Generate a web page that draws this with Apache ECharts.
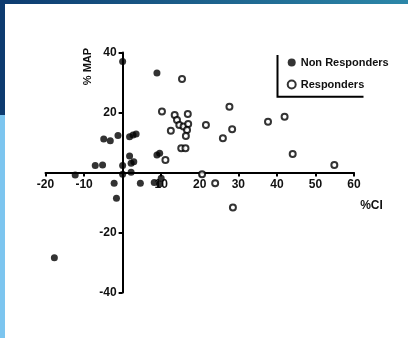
<!DOCTYPE html>
<html>
<head>
<meta charset="utf-8">
<script src="https://cdn.jsdelivr.net/npm/echarts@6/dist/echarts.min.js"></script>
<style>html,body{margin:0;padding:0;background:#fff;}#c{width:408px;height:338px;}</style>
</head>
<body>
<div id="c"></div>
<script>
var seriesNames = ['Non Responders', 'Responders'];
var nonResponders = [
  [0, 37], [8.9, 33.2], [-4.9, 11.2], [-3.2, 10.6], [-1.2, 12.3], [1.8, 11.9],
  [2.7, 12.5], [3.5, 12.8], [1.8, 5.5], [2.9, 3.6], [2.2, 3.1], [-7.1, 2.3],
  [-5.2, 2.5], [0, 2.3], [0, -0.6], [2.2, 0.1], [-12.3, -0.8], [-2.2, -3.6],
  [4.6, -3.6], [8.2, -3.3], [9.6, -3.8], [10, -1.9], [8.9, 5.8], [9.6, 6.4],
  [-1.6, -8.6], [-17.7, -28.4]
];
var responders = [
  [15.4, 31.2], [10.2, 20.3], [13.5, 19.2], [16.9, 19.5], [14.1, 17.5],
  [14.7, 15.8], [15.8, 15.3], [17, 16.2], [12.5, 13.9], [16.7, 14.2],
  [16.4, 12.2], [15.2, 8.1], [16.3, 8.1], [11.1, 4.2], [21.6, 15.8],
  [27.7, 21.9], [26, 11.4], [28.4, 14.4], [20.6, -0.6], [24, -3.6],
  [28.6, -11.7], [37.7, 16.9], [42, 18.6], [44.1, 6.2], [54.9, 2.5]
];
var xTicks = {min: -20, max: 60, step: 10};
var yTicks = {min: -40, max: 40, step: 20};
var xTitle = '%CI';
var yTitle = '% MAP';

var FONT = '"Liberation Sans", Arial, sans-serif';
var GRID = {left: 45.5, right: 54, top: 52.5, bottom: 45.5};
var W = 408, H = 338;
var plotW = W - GRID.left - GRID.right, plotH = H - GRID.top - GRID.bottom;
// offsets so the axes cross at the data origin (0,0)
var xAxisOffset = -plotH * (0 - yTicks.min) / (yTicks.max - yTicks.min);
var yAxisOffset = -plotW * (0 - xTicks.min) / (xTicks.max - xTicks.min);

var chart = echarts.init(document.getElementById('c'), null, {renderer: 'canvas'});
var axisCommon = {
  type: 'value',
  axisLine: {show: true, onZero: false, lineStyle: {color: '#000', width: 2}},
  axisTick: {show: true, length: 4, lineStyle: {color: '#000', width: 2}},
  splitLine: {show: false},
  axisLabel: {
    color: '#111', fontSize: 12, fontWeight: 'bold', fontFamily: FONT, margin: 6,
    formatter: function (v) { return v === 0 ? '' : String(v); }
  }
};
chart.setOption({
  backgroundColor: '#fff',
  animation: false,
  grid: {left: GRID.left, right: GRID.right, top: GRID.top, bottom: GRID.bottom, containLabel: false},
  xAxis: Object.assign({}, axisCommon, {position: 'bottom', offset: xAxisOffset,
    min: xTicks.min, max: xTicks.max, interval: xTicks.step}),
  yAxis: Object.assign({}, axisCommon, {position: 'left', offset: yAxisOffset,
    min: yTicks.min, max: yTicks.max, interval: yTicks.step}),
  legend: {
    orient: 'vertical', left: 286.7, top: 55.5, padding: 0, itemWidth: 8, itemHeight: 8, itemGap: 8,
    itemTextGap: 5,
    textStyle: {color: '#111', fontSize: 11, fontWeight: 'bold', fontFamily: FONT, lineHeight: 14},
    data: [
      {name: seriesNames[0], icon: 'circle'},
      {name: seriesNames[1], icon: 'circle'}
    ]
  },
  graphic: [
    {type: 'rect', shape: {x: 0, y: 0, width: 408, height: 4}, silent: true,
      style: {fill: new echarts.graphic.LinearGradient(0, 0, 1, 0, [
        {offset: 0, color: '#0d3b70'}, {offset: 1, color: '#2c87a8'}])}},
    {type: 'rect', shape: {x: 0, y: 0, width: 5, height: 115}, silent: true, style: {fill: '#0d3b70'}},
    {type: 'rect', shape: {x: 0, y: 115, width: 5, height: 223}, silent: true, style: {fill: '#7cc5ef'}},
    {type: 'polyline', shape: {points: [[277.5, 55], [277.5, 96.7], [363.5, 96.7]]}, silent: true,
      style: {stroke: '#000', lineWidth: 2, fill: null}},
    {type: 'text', x: 88, y: 66.5, rotation: Math.PI / 2, silent: true,
      style: {text: yTitle, fill: '#111', font: 'bold 11px ' + FONT, textAlign: 'center', textVerticalAlign: 'middle'}},
    {type: 'text', x: 371.5, y: 206, silent: true,
      style: {text: xTitle, fill: '#111', font: 'bold 12px ' + FONT, textAlign: 'center', textVerticalAlign: 'middle'}}
  ],
  series: [
    {name: seriesNames[0], type: 'scatter', data: nonResponders, symbol: 'circle', symbolSize: 7,
      itemStyle: {color: '#000'}, z: 3},
    {name: seriesNames[1], type: 'scatter', data: responders, symbol: 'circle', symbolSize: 6,
      itemStyle: {color: '#fff', borderColor: '#000', borderWidth: 2}, z: 4}
  ]
});
</script>
</body>
</html>
